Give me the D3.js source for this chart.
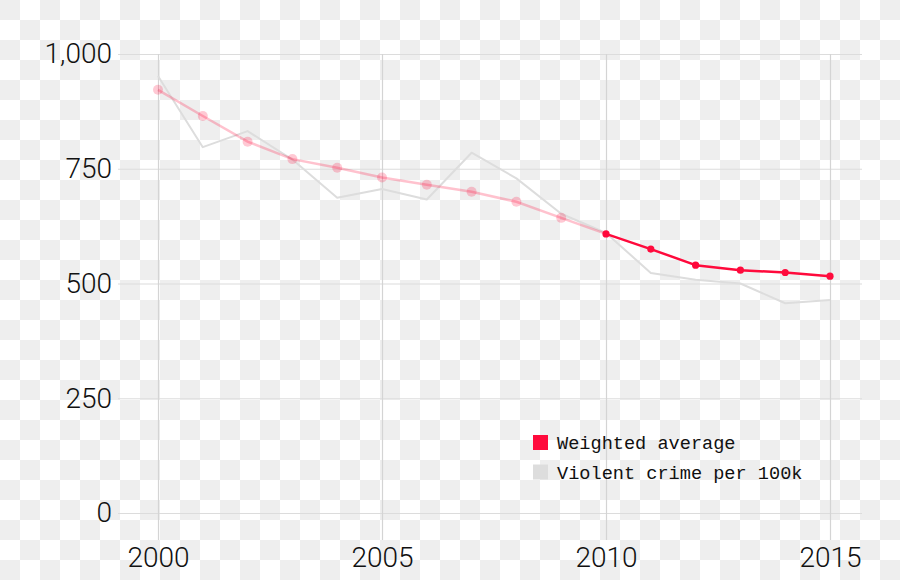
<!DOCTYPE html>
<html>
<head>
<meta charset="utf-8">
<script src="https://cdn.jsdelivr.net/npm/d3@7"></script>
<style>
  html, body { margin: 0; padding: 0; background: #fff; }
  svg { display: block; }
</style>
</head>
<body>
<svg id="chart" width="900" height="580"></svg>
<script>
const years = [2000, 2001, 2002, 2003, 2004, 2005, 2006, 2007, 2008, 2009, 2010, 2011, 2012, 2013, 2014, 2015];
const weightedAverage = [922, 865, 809, 771, 752, 731, 715, 700, 678, 643, 608, 575, 540, 529, 524, 516];
const violentCrime = [952, 797, 832, 770, 687, 706, 683, 785, 729, 652, 610, 523, 508, 500, 457, 464];
const yTicks = [0, 250, 500, 750, 1000];
const xTicks = [2000, 2005, 2010, 2015];
const highlightFrom = 2010;
const legendItems = ["Weighted average", "Violent crime per 100k"];

const svg = d3.select("#chart");
const W = 900, H = 580;

// transparency-style checkerboard backdrop
const defs = svg.append("defs");
const pat = defs.append("pattern").attr("id", "checker")
  .attr("width", 40).attr("height", 40).attr("patternUnits", "userSpaceOnUse");
pat.append("rect").attr("width", 40).attr("height", 40).attr("fill", "#ffffff");
pat.append("rect").attr("x", 0).attr("y", 0).attr("width", 20).attr("height", 20).attr("fill", "#eeeeee");
pat.append("rect").attr("x", 20).attr("y", 20).attr("width", 20).attr("height", 20).attr("fill", "#eeeeee");
svg.append("rect").attr("width", W).attr("height", H).attr("fill", "url(#checker)");

const x = d3.scaleLinear().domain([2000, 2015]).range([158, 830]);
const y = d3.scaleLinear().domain([0, 1000]).range([513, 54]);

const red = "#ff0a3c";
const tickFont = "Roboto, 'Liberation Sans', sans-serif";

// horizontal grid + y axis
const yAxis = d3.axisLeft(y).tickValues(yTicks)
  .tickSize(-(862 - 118)).tickPadding(8)
  .tickFormat(d3.format(","));
const gy = svg.append("g").attr("transform", "translate(118,0)").call(yAxis);
gy.select(".domain").remove();
gy.selectAll(".tick line").attr("stroke", "#dcdcdc").attr("stroke-width", 1.2);
gy.selectAll(".tick text")
  .attr("x", -6)
  .attr("font-family", tickFont).attr("font-weight", 300)
  .attr("font-size", 28).attr("fill", "#111");

// vertical grid + x axis
const xAxis = d3.axisBottom(x).tickValues(xTicks)
  .tickSize(-(540 - 54)).tickPadding(0)
  .tickFormat(d3.format("d"));
const gx = svg.append("g").attr("transform", "translate(0,540)").call(xAxis);
gx.select(".domain").remove();
gx.selectAll(".tick line").attr("stroke", "#d4d4d4").attr("stroke-width", 1.2);
gx.selectAll(".tick text")
  .attr("y", 27).attr("dy", 0)
  .attr("font-family", tickFont).attr("font-weight", 300)
  .attr("font-size", 28).attr("fill", "#111");

// data
const avg = years.map((yr, i) => ({ year: yr, v: weightedAverage[i] }));
const vc = years.map((yr, i) => ({ year: yr, v: violentCrime[i] }));
const line = d3.line().x(d => x(d.year)).y(d => y(d.v));

svg.append("path").datum(vc)
  .attr("d", line).attr("fill", "none")
  .attr("stroke", "#dddddd").attr("stroke-width", 2).attr("stroke-linejoin", "round");

const early = avg.filter(d => d.year <= highlightFrom);
const late = avg.filter(d => d.year >= highlightFrom);

svg.append("path").datum(early)
  .attr("d", line).attr("fill", "none")
  .attr("stroke", red).attr("stroke-opacity", 0.25).attr("stroke-width", 2.5);
svg.append("g").selectAll("circle").data(early.filter(d => d.year < highlightFrom)).join("circle")
  .attr("cx", d => x(d.year)).attr("cy", d => y(d.v)).attr("r", 5)
  .attr("fill", red).attr("fill-opacity", 0.22);

svg.append("path").datum(late)
  .attr("d", line).attr("fill", "none")
  .attr("stroke", red).attr("stroke-width", 2.5).attr("stroke-linejoin", "round");
svg.append("g").selectAll("circle").data(late).join("circle")
  .attr("cx", d => x(d.year)).attr("cy", d => y(d.v)).attr("r", 3.6)
  .attr("fill", red);

// legend
const legend = svg.append("g").attr("transform", "translate(533,435)");
const lg = legend.selectAll("g").data(legendItems).join("g")
  .attr("transform", (d, i) => `translate(0,${i * 29.5})`);
lg.append("rect").attr("width", 15).attr("height", 15)
  .attr("fill", (d, i) => i === 0 ? red : "#dddddd");
lg.append("text").attr("x", 24).attr("y", 14)
  .attr("font-family", "'Liberation Mono', 'DejaVu Sans Mono', monospace")
  .attr("font-size", 18.6).attr("fill", "#111")
  .text(d => d);
</script>
</body>
</html>
